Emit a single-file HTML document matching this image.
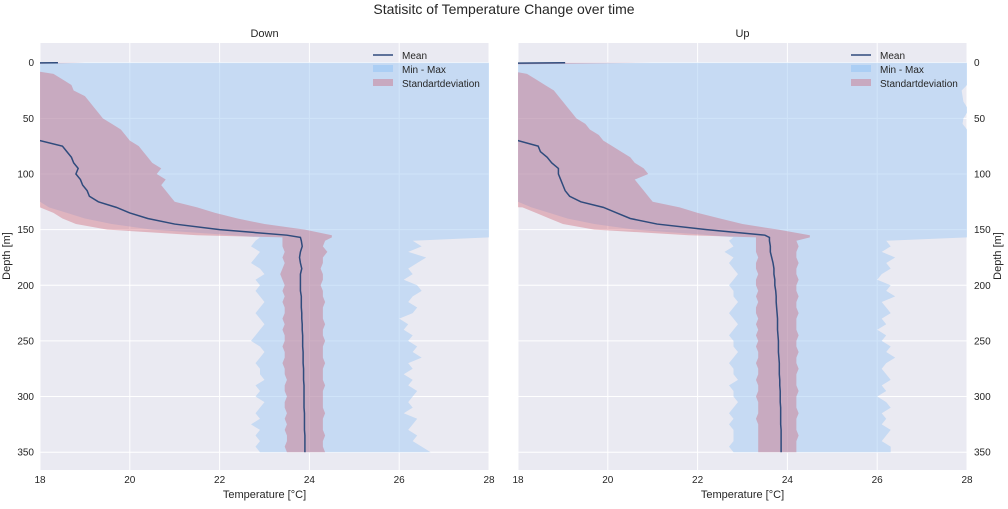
<!DOCTYPE html>
<html><head><meta charset="utf-8"><style>
body{margin:0;background:#fff;font-family:"Liberation Sans",sans-serif}
svg text{font-family:"Liberation Sans",sans-serif;fill:#262626}
</style></head><body>
<svg id="c" width="1008" height="504" viewBox="0 0 1008 504" xmlns="http://www.w3.org/2000/svg">
<text x="504" y="14" font-size="14" text-anchor="middle">Statisitc of Temperature Change over time</text>
</svg>
<script>
const depths=[0,2,5,10,15,20,25,30,35,40,45,50,55,60,65,70,75,80,85,90,95,100,105,110,115,120,125,130,135,140,145,150,155,157,160,165,170,175,180,185,190,195,200,205,210,215,220,225,230,235,240,245,250,255,260,265,270,275,280,285,290,295,300,305,310,315,320,325,330,335,340,345,350];
const xTicks=[18,20,22,24,26,28];
const yTicks=[0,50,100,150,200,250,300,350];
const panelTitles=["Down","Up"];
// Down panel
const downMean=[18.4,14,15,15.5,16,16,16.3,16.5,16.7,16.8,17,17.1,17.3,17.5,17.8,18.0,18.5,18.6,18.7,18.75,18.85,18.8,18.9,18.95,19.05,19.1,19.3,19.7,20.0,20.4,21.0,22.0,23.5,23.8,23.82,23.84,23.8,23.78,23.8,23.83,23.8,23.8,23.8,23.8,23.82,23.82,23.82,23.83,23.83,23.84,23.84,23.85,23.85,23.85,23.86,23.86,23.86,23.87,23.87,23.87,23.88,23.88,23.88,23.88,23.88,23.89,23.89,23.89,23.89,23.9,23.9,23.9,23.9];
const downStdLo=[17.5,10,10,10,10,10,10,10,10,10,10,10,10,10,10,10,10,10,10,10,10,10,10,10,10,10,10,18.0,18.3,18.5,18.8,19.5,21.5,23.4,23.4,23.4,23.45,23.4,23.45,23.4,23.35,23.4,23.45,23.4,23.45,23.4,23.45,23.45,23.4,23.45,23.4,23.45,23.45,23.4,23.45,23.45,23.4,23.45,23.45,23.5,23.45,23.45,23.5,23.45,23.45,23.5,23.45,23.5,23.45,23.5,23.5,23.45,23.5];
const downStdHi=[19.0,17,17.5,18.3,18.5,18.7,18.75,19.0,19.1,19.2,19.3,19.4,19.6,19.8,19.9,20.0,20.2,20.3,20.4,20.5,20.7,20.6,20.8,20.7,20.8,20.9,21.0,21.5,21.9,22.4,23.0,23.9,24.5,24.5,24.35,24.3,24.4,24.3,24.3,24.25,24.3,24.3,24.25,24.3,24.3,24.35,24.3,24.3,24.3,24.35,24.3,24.3,24.35,24.3,24.3,24.3,24.35,24.3,24.3,24.3,24.35,24.3,24.3,24.3,24.3,24.35,24.3,24.3,24.3,24.35,24.3,24.3,24.35];
const downMin=[18,18,18,18,18,18,18,18,18,18,18,18,18,18,18,18,18,18,18,18,18,18,18,18,18,18,18,18.2,18.6,19.0,19.6,20.5,22.3,22.9,22.8,22.7,22.9,22.8,22.7,22.9,23.0,22.8,22.9,22.8,22.9,23.0,22.9,22.8,22.9,23.0,22.9,22.8,22.7,22.9,23.0,22.9,22.8,22.9,22.9,23.0,22.8,22.9,22.8,23.0,22.9,22.8,22.9,22.7,22.9,22.8,22.9,22.8,22.9];
const downMax=[28,28,28,28,28,28,28,28,28,28,28,28,28,28,28,28,28,28,28,28,28,28,28,28,28,28,28,28,28,28,28,28,28,28,26.3,26.5,26.2,26.6,26.4,26.2,26.3,26.1,26.4,26.5,26.3,26.2,26.4,26.3,26.0,26.2,26.1,26.3,26.2,26.4,26.3,26.5,26.2,26.3,26.1,26.3,26.2,26.4,26.3,26.2,26.3,26.1,26.4,26.3,26.2,26.4,26.3,26.5,26.7];
// Up panel
const upMean=[19.05,14,15,15.5,16,16,16.3,16.5,16.7,16.8,17,17.1,17.3,17.5,17.8,18.0,18.45,18.5,18.65,18.75,18.9,18.9,18.95,19.0,19.05,19.15,19.4,19.9,20.2,20.5,21.1,22.2,23.5,23.6,23.6,23.62,23.62,23.65,23.68,23.7,23.7,23.72,23.72,23.74,23.75,23.75,23.76,23.77,23.78,23.78,23.78,23.79,23.8,23.8,23.8,23.81,23.82,23.82,23.82,23.83,23.83,23.84,23.84,23.84,23.85,23.85,23.85,23.85,23.86,23.86,23.86,23.86,23.86];
const upStdLo=[17.5,10,10,10,10,10,10,10,10,10,10,10,10,10,10,10,10,10,10,10,10,10,10,10,10,10,10,18.1,18.4,18.7,19.0,19.7,21.8,23.3,23.3,23.3,23.3,23.35,23.3,23.3,23.35,23.3,23.3,23.35,23.3,23.35,23.3,23.3,23.35,23.3,23.35,23.3,23.35,23.3,23.35,23.35,23.3,23.35,23.35,23.3,23.35,23.35,23.3,23.35,23.35,23.35,23.3,23.35,23.35,23.35,23.35,23.35,23.35];
const upStdHi=[21.0,17,17.5,18.2,18.4,18.6,18.8,18.9,19.0,19.1,19.2,19.3,19.5,19.6,19.8,19.9,20.1,20.3,20.5,20.6,20.8,20.9,20.6,20.7,20.8,20.9,21.0,21.6,22.0,22.5,23.0,23.8,24.5,24.5,24.2,24.25,24.2,24.2,24.25,24.2,24.2,24.25,24.2,24.2,24.25,24.2,24.2,24.25,24.2,24.2,24.2,24.25,24.2,24.2,24.25,24.2,24.2,24.25,24.2,24.2,24.2,24.25,24.2,24.2,24.2,24.25,24.2,24.2,24.2,24.25,24.2,24.2,24.2];
const upMin=[18,18,18,18,18,18,18,18,18,18,18,18,18,18,18,18,18,18,18,18,18,18,18,18,18,18,18,18.3,18.7,19.1,19.7,20.6,22.3,22.8,22.7,22.8,22.6,22.8,22.7,22.8,22.9,22.8,22.7,22.8,22.8,22.9,22.8,22.7,22.8,22.9,22.8,22.7,22.8,22.8,22.9,22.8,22.7,22.8,22.8,22.9,22.7,22.8,22.8,22.9,22.8,22.7,22.8,22.7,22.8,22.8,22.8,22.7,22.8];
const upMax=[28,28,28,28,28,28,27.88,27.9,27.92,28,28,27.92,27.9,28,28,28,28,28,28,28,28,28,28,28,28,28,28,28,28,28,28,28,28,28,26.2,26.3,26.1,26.4,26.2,26.3,26.1,26.0,26.3,26.2,26.4,26.1,26.2,26.3,26.1,26.2,26.0,26.2,26.1,26.3,26.2,26.4,26.2,26.1,26.2,26.3,26.1,26.2,26.0,26.2,26.3,26.1,26.2,26.1,26.3,26.2,26.1,26.3,26.3];

const svg=document.getElementById('c');
const NS='http://www.w3.org/2000/svg';
function mk(tag,attrs,parent){const e=document.createElementNS(NS,tag);for(const k in attrs)e.setAttribute(k,attrs[k]);(parent||svg).appendChild(e);return e;}
const Y0=43,Y1=470,D0=-17.7,D1=366;
function yS(d){return Y0+(d-D0)/(D1-D0)*(Y1-Y0);}
const panels=[{x0:40,x1:489,mean:downMean,lo:downStdLo,hi:downStdHi,mn:downMin,mx:downMax,name:'down'},
              {x0:518,x1:967,mean:upMean,lo:upStdLo,hi:upStdHi,mn:upMin,mx:upMax,name:'up'}];
panels.forEach((p,pi)=>{
  const xS=t=>p.x0+(t-18)/10*(p.x1-p.x0);
  const g=mk('g',{});
  
  
  const bg=mk('rect',{x:p.x0,y:Y0,width:p.x1-p.x0,height:Y1-Y0,fill:'#eaeaf2'},g);
  
  
  xTicks.forEach(t=>{
    const l=mk('line',{x1:xS(t),x2:xS(t),y1:Y0,y2:Y1,stroke:'#fff','stroke-width':1},g);
    
    
    const tx=mk('text',{x:xS(t),y:Y1+13,'font-size':10,'text-anchor':'middle'},g);
    tx.textContent=t;
    
    
  });
  yTicks.forEach(t=>{
    const l=mk('line',{x1:p.x0,x2:p.x1,y1:yS(t),y2:yS(t),stroke:'#fff','stroke-width':1},g);
    
    
    const tx=mk('text',{x:pi==0?p.x0-6:p.x1+7,y:yS(t)+3.5,'font-size':10,'text-anchor':pi==0?'end':'start'},g);
    tx.textContent=t;
    
    
  });
  const cid='clip'+pi;
  const cp=mk('clipPath',{id:cid},g);
  mk('rect',{x:p.x0,y:Y0,width:p.x1-p.x0,height:Y1-Y0},cp);
  const dg=mk('g',{'clip-path':'url(#'+cid+')'},g);
  function band(a,b,fill,name){
    let pts=depths.map((d,i)=>xS(a[i])+','+yS(d));
    for(let i=depths.length-1;i>=0;i--)pts.push(xS(b[i])+','+yS(depths[i]));
    const e=mk('polygon',{points:pts.join(' '),fill:fill},dg);
    
    
  }
  band(p.mn,p.mx,'rgba(161,201,244,0.5)','min-max-band');
  band(p.lo,p.hi,'rgba(203,80,97,0.35)','std-band');
  const ml=mk('polyline',{points:depths.map((d,i)=>xS(p.mean[i])+','+yS(d)).join(' '),fill:'none',stroke:'#2f4b7c','stroke-width':1.5},dg);
  
  
  const tt=mk('text',{x:(p.x0+p.x1)/2,y:37,'font-size':11,'text-anchor':'middle'},g);
  tt.textContent=panelTitles[pi];
  
  
  const xl=mk('text',{x:(p.x0+p.x1)/2,y:498,'font-size':11,'text-anchor':'middle'},g);
  xl.textContent='Temperature [°C]';
  
  
  const lx=p.x1-116;
  const lg=mk('g',{},g);
  
  
  mk('line',{x1:lx,x2:lx+20,y1:55,y2:55,stroke:'#2f4b7c','stroke-width':1.5},lg);
  mk('rect',{x:lx,y:65,width:20,height:7,fill:'rgba(161,201,244,0.75)'},lg);
  mk('rect',{x:lx,y:79,width:20,height:7,fill:'rgba(203,130,150,0.55)'},lg);
  ['Mean','Min - Max','Standartdeviation'].forEach((s,i)=>{
    const t=mk('text',{x:lx+29,y:59+i*14,'font-size':10},lg);
    t.textContent=s;
    
    
  });
});
const yl1=mk('text',{x:10,y:256,'font-size':11,'text-anchor':'middle',transform:'rotate(-90 10 256)'});
yl1.textContent='Depth [m]';


const yl2=mk('text',{x:1001,y:256,'font-size':11,'text-anchor':'middle',transform:'rotate(-90 1001 256)'});
yl2.textContent='Depth [m]';


</script>
</body></html>
